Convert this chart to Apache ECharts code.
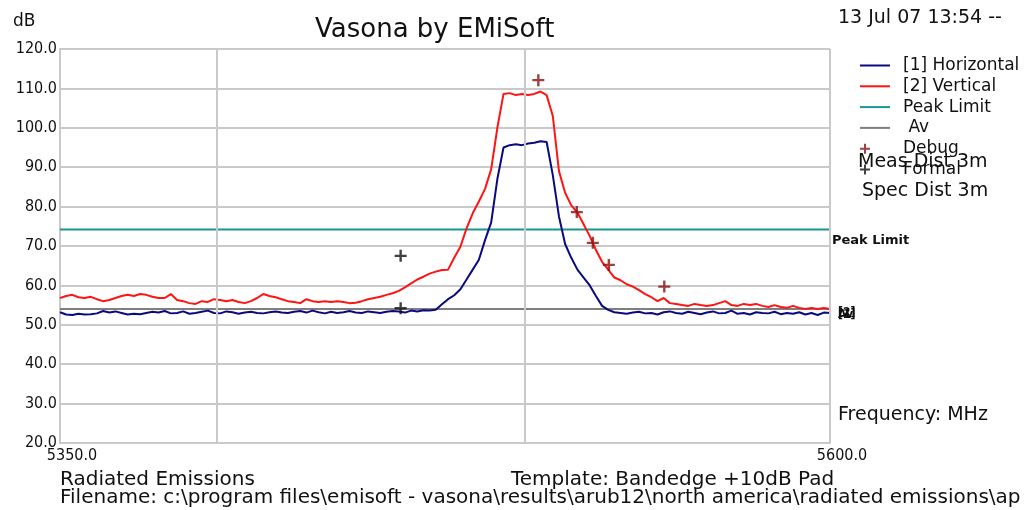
<!DOCTYPE html>
<html>
<head>
<meta charset="utf-8">
<script src="https://cdn.jsdelivr.net/npm/echarts@6/dist/echarts.min.js"></script>
<style>
  html, body { margin: 0; padding: 0; background: #ffffff; }
  #chart { width: 1026px; height: 510px; }
</style>
</head>
<body>
<div id="chart"></div>
<script>
// Sweep sampling: one reading every 2 MHz from 5350 MHz to 5600 MHz
const startFreq = 5350;
const stepMHz = 2;

// [1] Horizontal polarisation, dB
const horizontal = [
  53.2, 52.6, 52.5, 52.8, 52.6, 52.7, 52.9, 53.5, 53.1, 53.4,
  53.0, 52.6, 52.8, 52.7, 53.0, 53.3, 53.1, 53.5, 52.9, 53.0,
  53.4, 52.8, 53.0, 53.3, 53.6, 53.0, 52.9, 53.4, 53.2, 52.8,
  53.1, 53.3, 53.0, 52.9, 53.2, 53.4, 53.1, 53.0, 53.3, 53.5,
  53.1, 53.6, 53.2, 52.9, 53.3, 53.0, 53.2, 53.5, 53.1, 53.0,
  53.4, 53.2, 53.0, 53.3, 53.5, 53.4, 53.1, 53.6, 53.4, 53.7,
  53.6, 53.8, 55.2, 56.5, 57.5, 59.0, 61.5, 64.0, 66.5, 71.5,
  76.0, 87.0, 95.0, 95.6, 95.8, 95.6, 96.0, 96.2, 96.6, 96.4,
  88.0, 77.5, 70.5, 67.0, 64.0, 62.0, 60.0, 57.3, 54.8, 53.8,
  53.2, 53.0, 52.8, 53.1, 53.3, 52.9, 53.0, 52.6, 53.2, 53.4,
  53.0, 52.8, 53.3, 53.0, 52.7, 53.1, 53.4, 52.9, 53.0, 53.6,
  52.8, 53.0, 52.6, 53.2, 53.0, 52.9, 53.3, 52.7, 53.0, 52.8,
  53.2, 52.6, 53.0, 52.5, 53.1, 53.0
];

// [2] Vertical polarisation, dB
const vertical = [
  56.8, 57.3, 57.6, 57.0, 56.8, 57.1, 56.5, 56.0, 56.3, 56.8,
  57.3, 57.6, 57.3, 57.8, 57.6, 57.1, 56.8, 56.8, 57.8, 56.3,
  56.0, 55.5, 55.3, 56.0, 55.8, 56.5, 56.3, 56.0, 56.3, 55.8,
  55.5, 56.0, 56.8, 57.8, 57.3, 57.0, 56.5, 56.0, 55.8, 55.5,
  56.5, 56.0, 55.8, 56.0, 55.8, 56.0, 55.8, 55.5, 55.6, 56.0,
  56.5, 56.8, 57.1, 57.6, 58.0, 58.6, 59.5, 60.5, 61.5, 62.2,
  63.0, 63.5, 63.9, 64.0, 67.0, 69.8, 74.5, 78.3, 81.3, 84.5,
  89.5, 100.0, 108.6, 108.8, 108.3, 108.6, 108.3, 108.6, 109.2, 108.3,
  103.0, 89.0, 83.5, 80.3, 78.5, 75.5, 72.5, 69.0, 66.0, 64.0,
  62.0, 61.3, 60.3, 59.7, 58.8, 57.8, 57.0, 56.0, 56.8, 55.5,
  55.3, 55.0, 54.8, 55.3, 55.0, 54.8, 55.0, 55.5, 56.0, 55.0,
  54.8, 55.3, 55.0, 55.3, 54.8, 54.5, 55.0, 54.5, 54.3, 54.8,
  54.3, 54.0, 54.3, 54.0, 54.3, 54.0
];

// Limit lines, dB
const peakLimit = 74.2;
const avLimit = 54.0;

// Debug and formal peak readings
const debugFreq = [5505.3, 5517.8, 5523.0, 5528.2, 5546.2];
const debugLevel = [112.1, 78.6, 70.8, 65.2, 59.7];
const formalFreq = [5460.6, 5460.6];
const formalLevel = [67.5, 54.2];

// Axes
const freqRange = [5350, 5600];
const freqLabels = [5350, 5600];
const freqGridLines = [5401, 5501, 5600];
const levelRange = [20, 120];
const levelStep = 10;

const seriesNames = ['[1] Horizontal', '[2] Vertical', 'Peak Limit', ' Av', 'Debug', 'Formal'];

const FONT = "'DejaVu Sans', 'Liberation Sans', sans-serif";
const NARROW = "'Liberation Sans Narrow', 'DejaVu Sans Condensed', 'Liberation Sans', sans-serif";
const GRID_GREY = '#c9c9c9';
const PLUS = 'path://M4,0H6V4H10V6H6V10H4V6H0V4H4Z';
const LINE_ICON = 'path://M0,0H30V2H0Z';
const PLUS_ICON = PLUS + ' M30,5';

const toPairs = vals => vals.map((v, i) => [startFreq + i * stepMHz, v]);
const zipPairs = (xs, ys) => xs.map((x, i) => [x, ys[i]]);
const flatPairs = level => [[freqRange[0], level], [freqRange[1], level]];

const chart = echarts.init(document.getElementById('chart'), null, { renderer: 'canvas' });

const smallText = (x, y, text, size) => ({
  type: 'text', x: x, y: y,
  style: { text: text, fontFamily: FONT, fontSize: size, fill: '#111', textVerticalAlign: 'middle' }
});

chart.setOption({
  animation: false,
  backgroundColor: '#ffffff',
  title: {
    text: 'Vasona by EMiSoft',
    left: 315, top: 17, padding: 0,
    textStyle: { fontFamily: FONT, fontSize: 26, fontWeight: 'normal', color: '#111' }
  },
  legend: {
    orient: 'vertical',
    left: 860, top: 57, padding: 0,
    itemWidth: 30, itemHeight: 14, itemGap: 3.8,
    data: [
      { name: seriesNames[0], icon: LINE_ICON },
      { name: seriesNames[1], icon: LINE_ICON },
      { name: seriesNames[2], icon: LINE_ICON },
      { name: seriesNames[3], icon: LINE_ICON },
      { name: seriesNames[4], icon: PLUS_ICON },
      { name: seriesNames[5], icon: PLUS_ICON }
    ],
    textStyle: { fontFamily: FONT, fontSize: 17, color: '#111', padding: [0, 0, 0, 8] },
    selectedMode: false
  },
  grid: { left: 60, top: 49, width: 770, height: 394, containLabel: false },
  xAxis: {
    type: 'value',
    min: freqRange[0], max: freqRange[1],
    axisLine: { show: true, lineStyle: { color: GRID_GREY, width: 2 } },
    axisTick: { show: false },
    splitLine: { show: false },
    axisLabel: {
      customValues: freqLabels,
      formatter: v => v.toFixed(1),
      fontFamily: NARROW, fontSize: 16, color: '#111',
      margin: 5, padding: [0, 0, 0, 24]
    }
  },
  yAxis: {
    type: 'value',
    min: levelRange[0], max: levelRange[1], interval: levelStep,
    axisLine: { show: true, lineStyle: { color: GRID_GREY, width: 2 } },
    axisTick: { show: false },
    splitLine: { show: true, lineStyle: { color: GRID_GREY, width: 2 } },
    axisLabel: {
      formatter: v => v.toFixed(1),
      fontFamily: NARROW, fontSize: 16, color: '#111',
      margin: 3, padding: [0, 0, 6, 0]
    }
  },
  graphic: [
    smallText(13, 22, 'dB', 17),
    smallText(838, 18, '13 Jul 07 13:54 --', 19),
    smallText(858, 162, 'Meas Dist 3m', 19),
    smallText(862, 191, 'Spec Dist 3m', 19),
    smallText(838, 415, 'Frequency: MHz', 19),
    smallText(60, 480, 'Radiated Emissions', 20),
    smallText(511, 480, 'Template: Bandedge +10dB Pad', 20),
    smallText(60, 498, 'Filename: c:\\program files\\emisoft - vasona\\results\\arub12\\north america\\radiated emissions\\ap', 20)
  ],
  series: [
    {
      // vertical grid rules and right frame edge
      name: 'frame', type: 'line', data: [], z: 1, silent: true,
      markLine: {
        silent: true, symbol: 'none', animation: false,
        label: { show: false },
        lineStyle: { color: GRID_GREY, width: 2, type: 'solid' },
        data: freqGridLines.map(f => ({ xAxis: f }))
      }
    },
    {
      name: seriesNames[0], type: 'line', data: toPairs(horizontal),
      showSymbol: false, symbol: 'none', z: 4,
      lineStyle: { color: '#0a0a80', width: 2 }, itemStyle: { color: '#0a0a80' },
      endLabel: { show: true, formatter: '[1]', distance: 8, offset: [0, 2],
        fontFamily: NARROW, fontSize: 12, fontWeight: 'bold', color: '#111' }
    },
    {
      name: seriesNames[1], type: 'line', data: toPairs(vertical),
      showSymbol: false, symbol: 'none', z: 3,
      lineStyle: { color: '#ff1414', width: 2 }, itemStyle: { color: '#ff1414' },
      endLabel: { show: true, formatter: '[2]', distance: 8, offset: [0, 4],
        fontFamily: NARROW, fontSize: 12, fontWeight: 'bold', color: '#111' }
    },
    {
      name: seriesNames[2], type: 'line', data: flatPairs(peakLimit),
      showSymbol: false, symbol: 'none', z: 2,
      lineStyle: { color: '#1a9696', width: 2 }, itemStyle: { color: '#1a9696' },
      endLabel: { show: true, formatter: 'Peak Limit', distance: 2, offset: [0, 11],
        fontFamily: FONT, fontSize: 13, fontWeight: 'bold', color: '#111' }
    },
    {
      name: seriesNames[3], type: 'line', data: flatPairs(avLimit),
      showSymbol: false, symbol: 'none', z: 2,
      lineStyle: { color: '#7f7f7f', width: 2 }, itemStyle: { color: '#7f7f7f' },
      endLabel: { show: true, formatter: 'Av', distance: 8, offset: [0, 6],
        fontFamily: NARROW, fontSize: 12, fontWeight: 'bold', color: '#111' }
    },
    {
      name: seriesNames[4], type: 'scatter', data: zipPairs(debugFreq, debugLevel),
      symbol: PLUS, symbolSize: 12, z: 5,
      itemStyle: { color: '#8b1010' }
    },
    {
      name: seriesNames[5], type: 'scatter', data: zipPairs(formalFreq, formalLevel),
      symbol: PLUS, symbolSize: 12, z: 5,
      itemStyle: { color: '#111111' }
    }
  ]
});
</script>
</body>
</html>
